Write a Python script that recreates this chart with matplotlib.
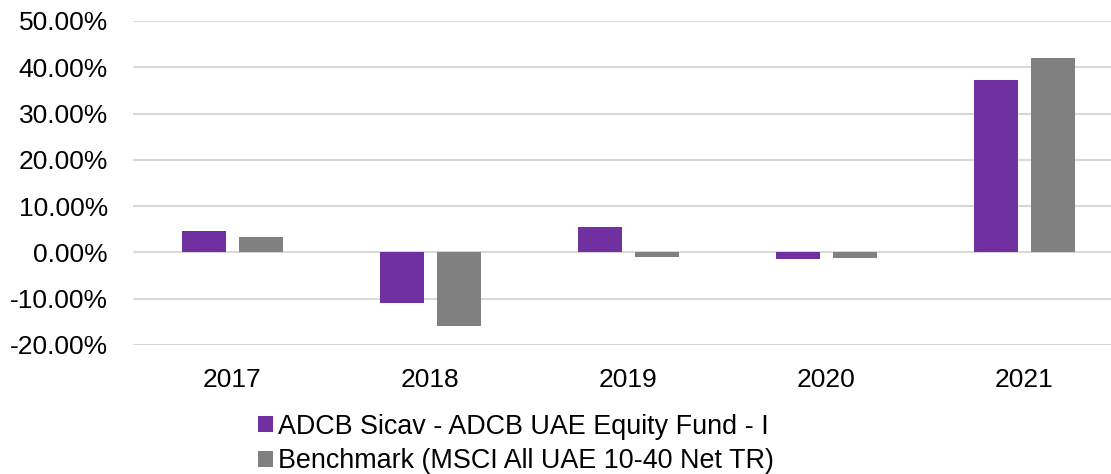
import numpy as np
import matplotlib.pyplot as plt
from matplotlib.ticker import FuncFormatter

years = ["2017", "2018", "2019", "2020", "2021"]
fund = [4.6, -10.9, 5.4, -1.4, 37.2]
bench = [3.4, -16.0, -1.0, -1.2, 42.1]
fund_label = "ADCB Sicav - ADCB UAE Equity Fund - I"
bench_label = "Benchmark (MSCI All UAE 10-40 Net TR)"

plt.rcParams["font.family"] = ["Liberation Sans", "DejaVu Sans"]

W, H = 1111, 474
fig = plt.figure(figsize=(W / 100, H / 100), dpi=100)
# plot area runs past the right edge, like the source crop
ax = fig.add_axes([133 / W, (H - 345) / H, 990.5 / W, 324 / H])

x = np.arange(len(years))
bw = 0.222
off = 0.144
ax.bar(x - off, fund, bw, color="#7030A0", label=fund_label, zorder=3)
ax.bar(x + off, bench, bw, color="#808080", label=bench_label, zorder=3)

ax.set_xlim(-0.5, len(years) - 0.5)
ax.set_ylim(-20, 50)
ax.set_yticks(np.arange(-20, 51, 10))
ax.yaxis.set_major_formatter(FuncFormatter(lambda v, p: f"{v:.2f}%"))
ax.set_xticks(x)
ax.set_xticklabels(years)
ax.tick_params(axis="both", length=0, labelsize=19, colors="black")
ax.tick_params(axis="y", pad=18)
ax.tick_params(axis="x", pad=16.5)
ax.grid(axis="y", color="#d9d9d9", linewidth=1.5, zorder=0)
for s in ax.spines.values():
    s.set_visible(False)

fig.legend(loc="upper left", bbox_to_anchor=(258 / W, 1 - 414 / H),
           frameon=False, fontsize=19.4, handlelength=0.54, handleheight=0.54,
           handletextpad=0.2, labelspacing=0.3, borderpad=0, borderaxespad=0)

fig.savefig("out.png", dpi=100)
